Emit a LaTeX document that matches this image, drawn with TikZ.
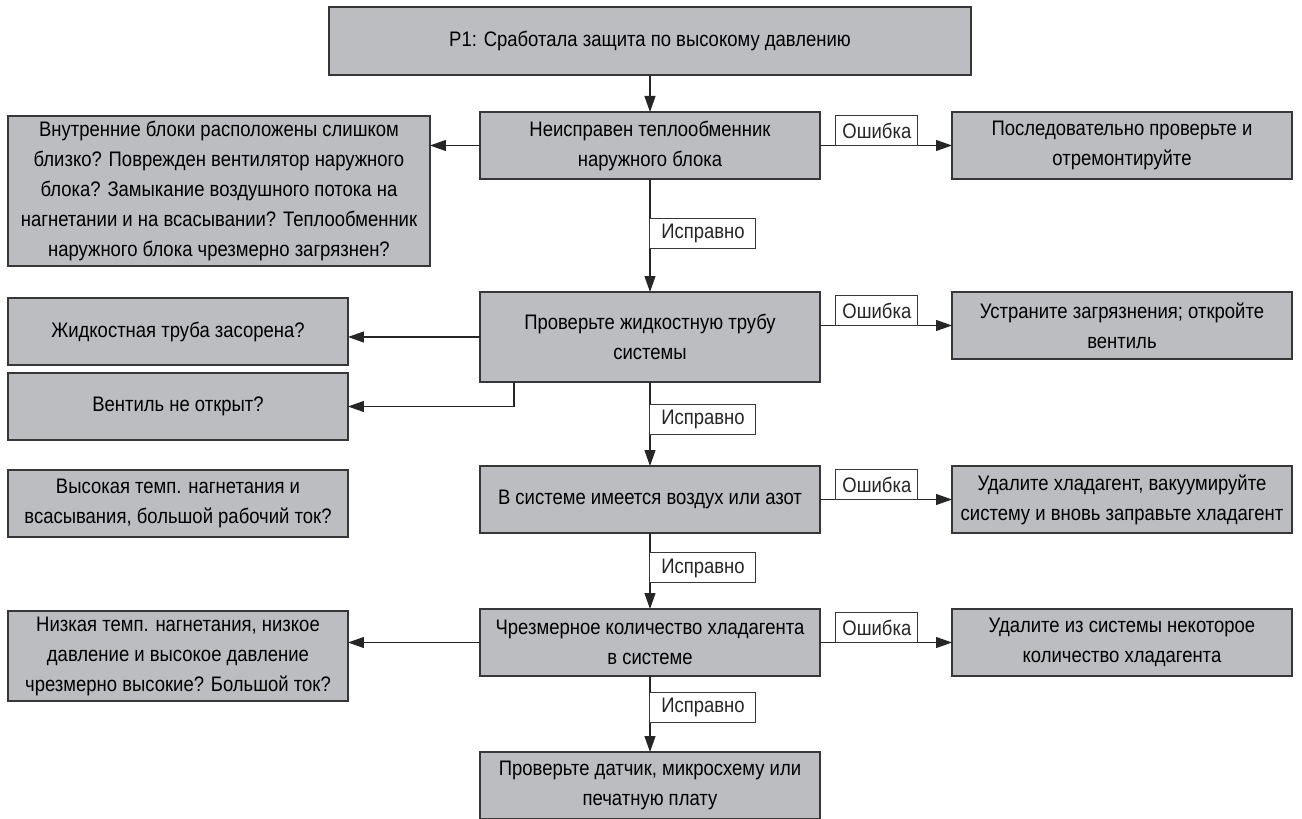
\documentclass[tikz,border=0pt]{standalone}
\usepackage{fontspec}
\setmainfont{Liberation Sans}[FakeStretch=0.88]
\usepackage{xcolor}
\usepackage{tikz}
\usetikzlibrary{arrows.meta, positioning}
\definecolor{boxgray}{RGB}{188,189,192}
\definecolor{edgegray}{RGB}{55,55,58}
\tikzset{
  block/.style={rectangle, draw=edgegray, fill=boxgray, line width=0.7pt, outer sep=0pt,
                align=center, font=\fontsize{10.5}{15}\selectfont, inner sep=2pt,
                minimum width=170pt, minimum height=33.5pt},
  errtag/.style={rectangle, draw=edgegray, fill=white, line width=0.5pt, outer sep=0pt,
                 font=\fontsize{10.5}{15}\selectfont, inner sep=1pt,
                 minimum width=41pt, minimum height=15pt},
  oktag/.style={errtag, minimum width=53pt},
  arrow/.style={-{Triangle[length=8pt, width=5.5pt]}, line width=0.6pt, black!85},
}
\begin{document}
\begin{tikzpicture}[node distance=66pt]
  \useasboundingbox (-325pt,20.5pt) rectangle (326pt,-389pt);

  % --- Main checks ---
  \node[block, minimum width=321pt, minimum height=34pt] (alarm)
        {P1: Сработала защита по высокому давлению};
  \node[block, below=18.5pt of alarm] (coil)
        {Неисправен теплообменник\\ наружного блока};
  \node[block, below=56.5pt of coil, minimum height=45pt] (pipe)
        {Проверьте жидкостную трубу\\ системы};
  \node[block, below=42pt of pipe] (air)
        {В системе имеется воздух или азот};
  \node[block, below=38pt of air] (excess)
        {Чрезмерное количество хладагента\\ в системе};
  \node[block, below=38pt of excess] (board)
        {Проверьте датчик, микросхему или\\ печатную плату};

  % --- Remedies ---
  \node[block, right=66pt of coil] (repair)
        {Последовательно проверьте и\\ отремонтируйте};
  \node[block, right=66pt of pipe.north east, anchor=north west] (clean)
        {Устраните загрязнения; откройте\\ вентиль};
  \node[block, right=66pt of air] (recharge)
        {Удалите хладагент, вакуумируйте\\ систему и вновь заправьте хладагент};
  \node[block, right=66pt of excess] (drain)
        {Удалите из системы некоторое\\ количество хладагента};

  % --- Possible causes ---
  \node[block, minimum width=211pt, minimum height=75pt,
        left=25pt of coil.north west, anchor=north east, yshift=-2pt] (causes)
        {Внутренние блоки расположены слишком\\ близко? Поврежден вентилятор наружного\\
         блока? Замыкание воздушного потока на\\ нагнетании и на всасывании? Теплообменник\\
         наружного блока чрезмерно загрязнен?};
  \node[block, left=66pt of pipe.north west, anchor=north east, yshift=-3pt] (clog)
        {Жидкостная труба засорена?};
  \node[block, below=4pt of clog] (valve)
        {Вентиль не открыт?};
  \node[block, left=66pt of air, yshift=-2pt] (hightemp)
        {Высокая темп. нагнетания и\\ всасывания, большой рабочий ток?};
  \node[block, minimum height=45pt, left=66pt of excess.north west, anchor=north east, yshift=-1pt] (lowtemp)
        {Низкая темп. нагнетания, низкое\\ давление и высокое давление\\ чрезмерно высокие? Большой ток?};

  % --- Arrows ---
  \coordinate (tap) at ([xshift=17pt]pipe.south west);
  \draw[arrow] (alarm) -- (coil);
  \draw[arrow] (coil)   -- node[oktag, pos=0.48, anchor=west] {Исправно} (pipe);
  \draw[arrow] (pipe)   -- node[oktag, pos=0.45, anchor=west] {Исправно} (air);
  \draw[arrow] (air)    -- node[oktag, pos=0.46, anchor=west] {Исправно} (excess);
  \draw[arrow] (excess) -- node[oktag, pos=0.42, anchor=west] {Исправно} (board);

  \draw[arrow] (coil.east) -- node[errtag, pos=0.12, anchor=south west] {Ошибка} (repair.west);
  \draw[arrow] (pipe.east |- clean.west) -- node[errtag, pos=0.12, anchor=south west] {Ошибка} (clean.west);
  \draw[arrow] (air.east) -- node[errtag, pos=0.12, anchor=south west] {Ошибка} (recharge.west);
  \draw[arrow] (excess.east) -- node[errtag, pos=0.12, anchor=south west] {Ошибка} (drain.west);

  \draw[arrow] (coil.west) -- (coil.west -| causes.east);
  \draw[arrow] (pipe.west) -- (pipe.west -| clog.east);
  \draw[arrow] (tap) |- (valve.east);
  \draw[arrow] (excess.west) -- (excess.west -| lowtemp.east);

\end{tikzpicture}
\end{document}
